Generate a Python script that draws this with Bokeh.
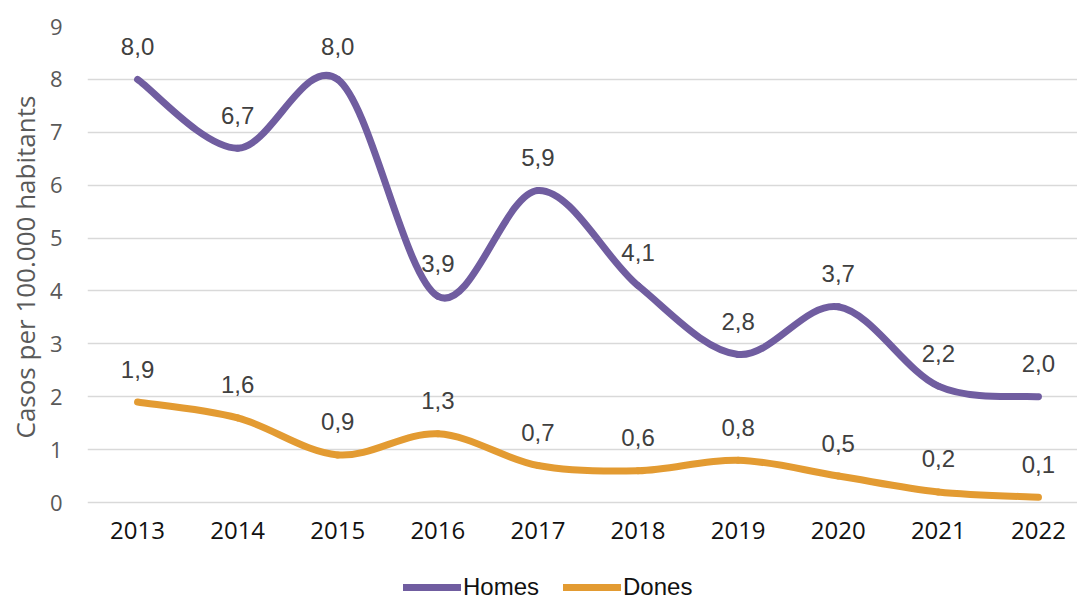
import numpy as np
from bokeh.plotting import figure
from bokeh.models import FixedTicker, Legend, LegendItem, ColumnDataSource, Range1d, Title
from bokeh.core.properties import value
from bokeh.embed import file_html
from bokeh.resources import INLINE

years = [2013, 2014, 2015, 2016, 2017, 2018, 2019, 2020, 2021, 2022]
homes = [8.0, 6.7, 8.0, 3.9, 5.9, 4.1, 2.8, 3.7, 2.2, 2.0]
dones = [1.9, 1.6, 0.9, 1.3, 0.7, 0.6, 0.8, 0.5, 0.2, 0.1]
y_ticks = [0, 1, 2, 3, 4, 5, 6, 7, 8, 9]
series_names = ["Homes", "Dones"]
series_colors = ["#705DA0", "#E39B32"]
y_title = "Casos per 100.000 habitants"


def smooth_source(xs, ys):
    # Excel-like smoothed line: cubic Bezier segments with Catmull-Rom tangents
    n = len(xs)
    d = dict(x0=[], y0=[], x1=[], y1=[], cx0=[], cy0=[], cx1=[], cy1=[])
    for i in range(n - 1):
        pm = max(i - 1, 0)
        pp = min(i + 2, n - 1)
        d["x0"].append(xs[i]); d["y0"].append(ys[i])
        d["x1"].append(xs[i + 1]); d["y1"].append(ys[i + 1])
        d["cx0"].append(xs[i] + (xs[i + 1] - xs[pm]) / 6.0)
        d["cy0"].append(ys[i] + (ys[i + 1] - ys[pm]) / 6.0)
        d["cx1"].append(xs[i + 1] - (xs[pp] - xs[i]) / 6.0)
        d["cy1"].append(ys[i + 1] - (ys[pp] - ys[i]) / 6.0)
    return ColumnDataSource(d)


def fmt(v):
    return f"{v:.1f}".replace(".", ",")


W, H = 1077, 599
left, top = 87, 26
px_per_year = 100.1
px_per_unit = 52.89
frame_h = H - top

p = figure(
    width=W, height=H,
    output_backend="svg", toolbar_location=None,
    x_range=Range1d(2012.5, 2012.5 + (W - left) / px_per_year),
    y_range=Range1d(9 - frame_h / px_per_unit, 9),
    min_border_left=left, min_border_top=top, min_border_bottom=0, min_border_right=0,
)
p.outline_line_color = None
p.background_fill_color = "white"
p.border_fill_color = "white"

p.xgrid.visible = False
p.ygrid.grid_line_color = "#d9d9d9"
p.ygrid.grid_line_width = 1.5

p.xaxis.ticker = FixedTicker(ticks=years)
p.yaxis.ticker = FixedTicker(ticks=y_ticks)
for ax in (p.xaxis, p.yaxis):
    ax.axis_line_color = None
    ax.major_tick_line_color = None
    ax.minor_tick_line_color = None
    ax.major_tick_out = 0
    ax.major_tick_in = 0
    ax.minor_tick_out = 0
    ax.minor_tick_in = 0
    ax.major_label_text_font = "Open Sans"

p.xaxis.fixed_location = 0
p.xaxis.major_label_text_font_size = "24px"
p.xaxis.major_label_text_color = "#111111"
p.xaxis.major_label_standoff = 19

p.yaxis.major_label_text_font_size = "22px"
p.yaxis.major_label_text_color = "#595959"
p.yaxis.major_label_standoff = 25

t = Title(text=y_title, align="left", offset=161, standoff=8,
          text_font="Open Sans", text_font_size="26px",
          text_font_style="normal", text_color="#595959")
p.add_layout(t, "left")

renderers = []
for name, ys, col in zip(series_names, [homes, dones], series_colors):
    src = smooth_source(years, ys)
    r = p.bezier(x0="x0", y0="y0", x1="x1", y1="y1", cx0="cx0", cy0="cy0",
                 cx1="cx1", cy1="cy1", source=src,
                 line_color=col, line_width=7, line_cap="round")
    renderers.append(r)
    p.text(x=years, y=ys, text=[fmt(v) for v in ys],
           text_align="center", text_baseline="middle", y_offset=-33,
           text_font=value("Liberation Sans"), text_font_size="24px",
           text_color="#404040")

legend = Legend(
    items=[LegendItem(label=n, renderers=[r]) for n, r in zip(series_names, renderers)],
    orientation="horizontal",
    location=(316, -2),
    glyph_width=58, glyph_height=24,
    label_text_font="Liberation Sans", label_text_font_size="24px",
    label_text_color="#111111",
    label_standoff=2, spacing=24, padding=0, margin=0,
    border_line_color=None, background_fill_alpha=0,
)
p.add_layout(legend)

open("out.html", "w").write(file_html(p, INLINE))
